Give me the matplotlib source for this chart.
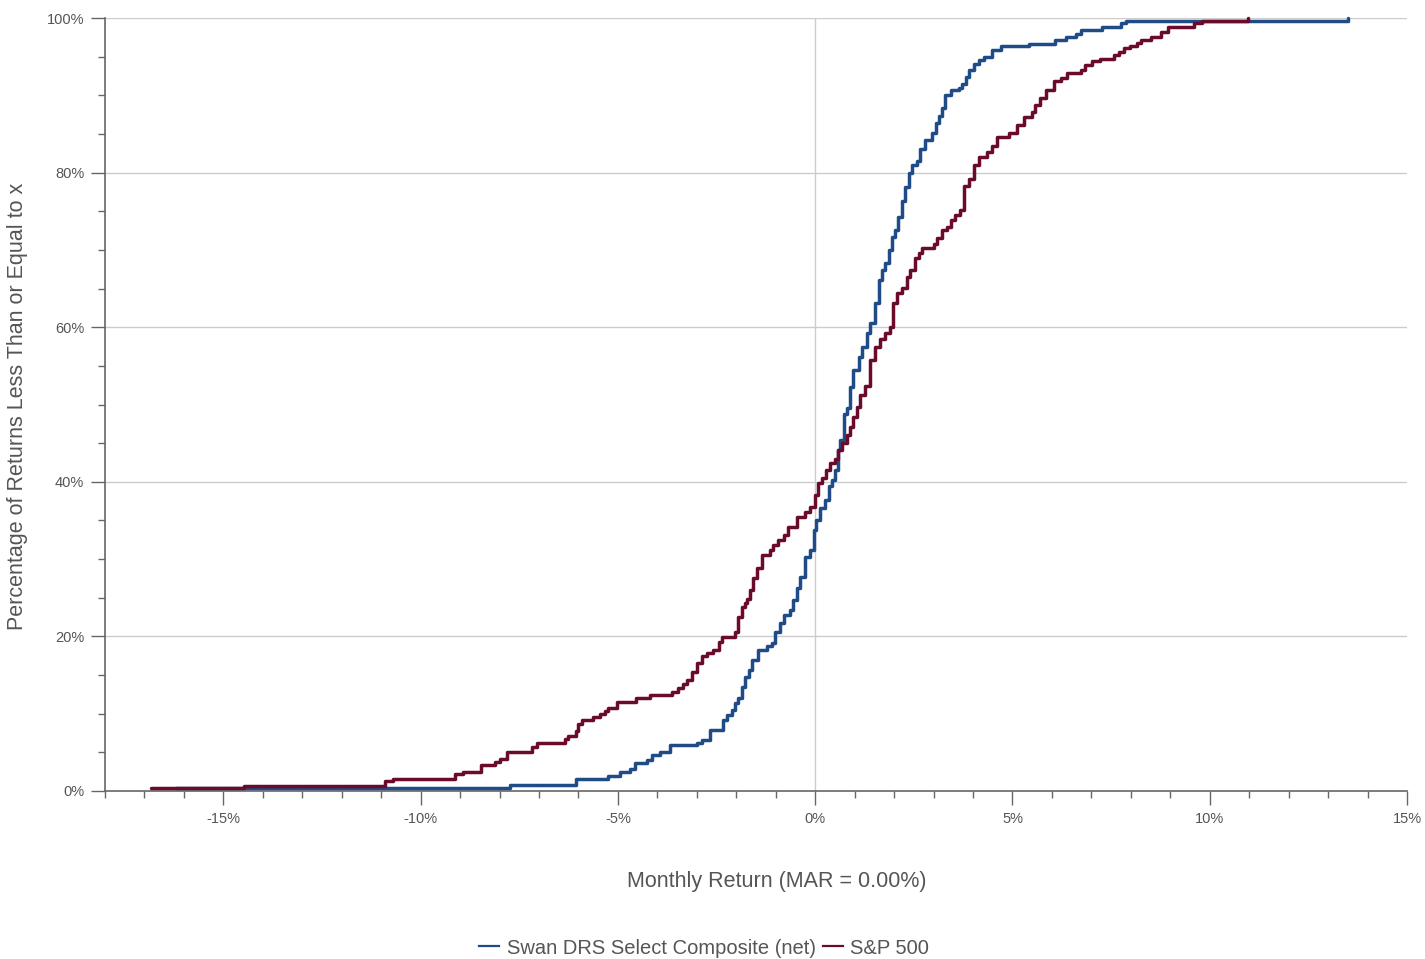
import numpy as np
import matplotlib
matplotlib.use("Agg")
import matplotlib.pyplot as plt
from matplotlib.ticker import MultipleLocator, FuncFormatter
from matplotlib.lines import Line2D

plt.rcParams['font.family'] = ['Liberation Sans', 'DejaVu Sans']

# step points: monthly return (%) and cumulative share (%)
swan_ret = [-16.20, -7.74, -6.05, -5.25, -4.95, -4.70, -4.57, -4.27, -4.14, -3.93,
            -3.68, -3.00, -2.88, -2.66, -2.33, -2.24, -2.11, -2.03, -1.95, -1.86,
            -1.78, -1.69, -1.61, -1.44, -1.23, -1.10, -1.02, -0.89, -0.80, -0.63,
            -0.55, -0.46, -0.38, -0.25, -0.13, -0.04, 0.03, 0.13, 0.25, 0.34,
            0.42, 0.51, 0.59, 0.63, 0.72, 0.80, 0.89, 0.97, 1.10, 1.19,
            1.31, 1.40, 1.52, 1.61, 1.69, 1.78, 1.86, 1.95, 2.03, 2.11,
            2.20, 2.28, 2.37, 2.45, 2.58, 2.66, 2.79, 2.96, 3.05, 3.13,
            3.22, 3.30, 3.43, 3.64, 3.72, 3.81, 3.89, 4.02, 4.14, 4.27,
            4.48, 4.70, 5.41, 6.09, 6.35, 6.60, 6.73, 7.28, 7.74, 7.87, 13.50]
swan_pct = [0.4, 0.8, 1.6, 2.0, 2.4, 2.9, 3.6, 4.0, 4.7, 5.0,
            5.9, 6.2, 6.6, 7.9, 9.2, 9.8, 10.5, 11.4, 12.0, 13.5,
            14.8, 15.7, 17.0, 18.2, 18.7, 19.1, 20.6, 21.7, 22.8, 23.4,
            24.7, 26.2, 27.7, 30.3, 31.2, 33.8, 35.1, 36.6, 37.6, 39.4,
            40.2, 41.5, 44.1, 45.4, 48.8, 49.5, 52.3, 54.5, 56.2, 57.4,
            59.2, 60.5, 63.1, 66.1, 67.4, 68.3, 70.0, 71.7, 72.6, 74.3,
            76.3, 78.1, 80.0, 81.0, 81.5, 83.0, 84.2, 85.1, 86.4, 87.3,
            88.3, 90.0, 90.7, 90.9, 91.5, 92.4, 93.3, 94.1, 94.6, 95.0,
            95.9, 96.4, 96.7, 97.1, 97.6, 97.9, 98.4, 98.9, 99.3, 99.6, 100.0]

spx_ret = [-16.84, -14.48, -10.90, -10.69, -9.14, -8.93, -8.46, -8.12, -8.00, -7.82,
           -7.19, -7.06, -6.35, -6.26, -6.07, -6.01, -5.92, -5.63, -5.46, -5.33,
           -5.25, -5.03, -4.53, -4.19, -3.64, -3.47, -3.34, -3.26, -3.13, -3.00,
           -2.88, -2.75, -2.58, -2.45, -2.37, -2.03, -1.95, -1.86, -1.78, -1.73,
           -1.65, -1.57, -1.48, -1.35, -1.14, -1.06, -0.93, -0.80, -0.68, -0.46,
           -0.25, -0.13, 0.00, 0.08, 0.17, 0.28, 0.38, 0.51, 0.59, 0.68,
           0.80, 0.89, 0.97, 1.06, 1.14, 1.27, 1.40, 1.52, 1.65, 1.78,
           1.90, 1.97, 2.07, 2.20, 2.33, 2.41, 2.54, 2.62, 2.71, 3.00,
           3.09, 3.22, 3.34, 3.43, 3.55, 3.68, 3.76, 3.89, 4.02, 4.14,
           4.36, 4.48, 4.61, 4.91, 5.12, 5.29, 5.50, 5.58, 5.71, 5.84,
           6.05, 6.22, 6.39, 6.73, 6.85, 7.02, 7.23, 7.57, 7.70, 7.82,
           7.99, 8.16, 8.25, 8.50, 8.76, 8.93, 9.60, 9.81, 10.96]
spx_pct = [0.35, 0.7, 1.3, 1.6, 2.2, 2.5, 3.4, 3.8, 4.2, 5.0,
           5.7, 6.2, 6.7, 7.1, 7.7, 8.7, 9.2, 9.6, 10.0, 10.4,
           10.8, 11.5, 12.0, 12.4, 12.8, 13.3, 13.9, 14.4, 15.4, 16.6,
           17.5, 17.9, 18.3, 19.3, 19.9, 20.6, 22.5, 23.8, 24.3, 24.9,
           26.0, 27.6, 28.8, 30.5, 31.2, 31.8, 32.5, 33.1, 34.2, 35.5,
           36.1, 36.8, 38.3, 39.8, 40.5, 41.5, 42.4, 42.9, 44.1, 45.0,
           46.1, 47.1, 48.4, 49.7, 51.2, 52.4, 55.7, 57.4, 58.5, 59.2,
           60.0, 63.1, 64.4, 65.1, 66.5, 67.4, 68.9, 69.6, 70.2, 70.7,
           71.5, 72.6, 73.0, 73.9, 74.5, 75.1, 78.3, 79.2, 81.0, 82.0,
           82.7, 83.5, 84.6, 85.1, 86.1, 87.2, 87.9, 88.8, 89.6, 90.7,
           91.8, 92.2, 92.9, 93.3, 93.9, 94.4, 94.7, 95.2, 95.6, 96.1,
           96.4, 96.8, 97.1, 97.6, 98.2, 98.9, 99.3, 99.6, 100.0]

series_names = ['Swan DRS Select Composite (net)', 'S&P 500']
series_colors = ['#1f4b87', '#6b0b2b']
text_col = '#555555'
axis_col = '#666666'

fig = plt.figure(figsize=(14.25, 9.59), dpi=100)
ax = fig.add_axes([105 / 1425, 1 - 791 / 959, 1302 / 1425, 773 / 959])

ax.set_xlim(-18, 15)
ax.set_ylim(0, 100)

# grid: horizontal at majors, vertical only at zero
for yv in [20, 40, 60, 80, 100]:
    ax.axhline(yv, color='#cccccc', lw=1, zorder=1)
ax.axvline(0, color='#cccccc', lw=1, zorder=1)

ax.step(swan_ret, swan_pct, where='post', color=series_colors[0], lw=2.5,
        solid_joinstyle='round', solid_capstyle='round', clip_on=False, zorder=3)
ax.step(spx_ret, spx_pct, where='post', color=series_colors[1], lw=2.5,
        solid_joinstyle='round', solid_capstyle='round', clip_on=False, zorder=4)

for s in ['top', 'right']:
    ax.spines[s].set_visible(False)
for s in ['left', 'bottom']:
    ax.spines[s].set_color(axis_col)
    ax.spines[s].set_linewidth(1.2)

ax.xaxis.set_major_locator(MultipleLocator(5))
ax.xaxis.set_minor_locator(MultipleLocator(1))
ax.yaxis.set_major_locator(MultipleLocator(20))
ax.yaxis.set_minor_locator(MultipleLocator(5))
pct = FuncFormatter(lambda v, p: '%d%%' % round(v))
ax.xaxis.set_major_formatter(pct)
ax.yaxis.set_major_formatter(pct)

ax.tick_params(which='major', length=10, width=1, color=axis_col,
               labelsize=10.5, labelcolor=text_col, pad=5)
ax.tick_params(which='minor', length=5, width=1, color=axis_col)

fig.text(777 / 1425, 1 - 881 / 959, 'Monthly Return (MAR = 0.00%)',
         ha='center', va='center', fontsize=15.5, color=text_col)
fig.text(18 / 1425, 1 - 406 / 959, 'Percentage of Returns Less Than or Equal to x',
         ha='center', va='center', rotation=90, fontsize=15.5, color=text_col)

handles = [Line2D([], [], color=c, lw=1.6) for c in series_colors]
leg = fig.legend(handles, series_names, loc='center', bbox_to_anchor=(704 / 1425, 1 - 948 / 959),
                 ncol=2, frameon=False, fontsize=14.5, handlelength=1.0, handletextpad=0.35,
                 columnspacing=0.35)
for t in leg.get_texts():
    t.set_color(text_col)

fig.savefig('out.png', dpi=100)
